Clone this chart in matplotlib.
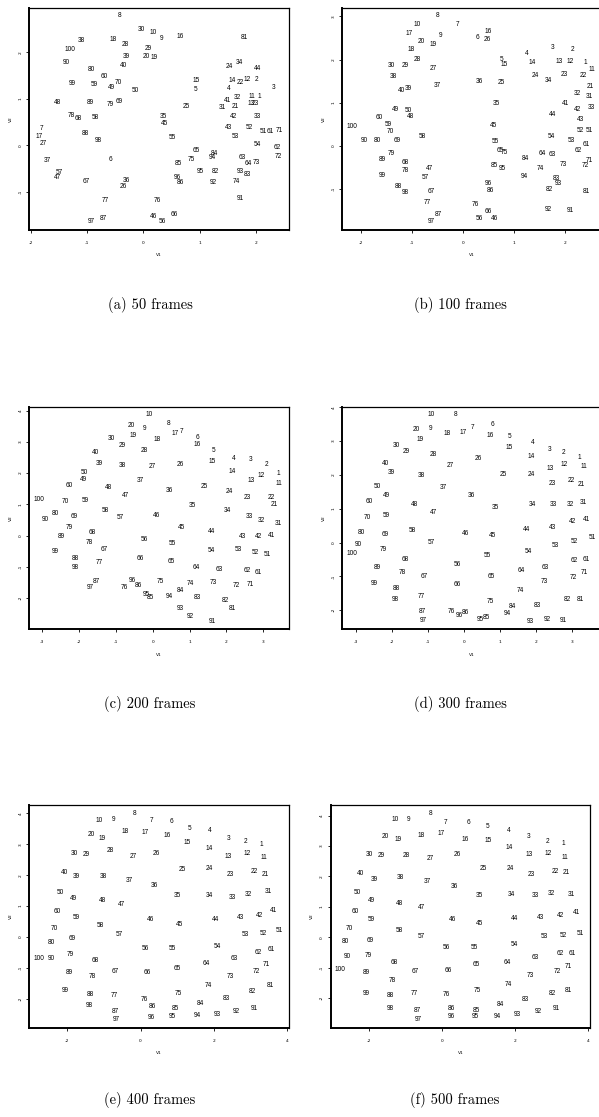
import numpy as np
import matplotlib
matplotlib.use("Agg")
import matplotlib.pyplot as plt

plt.rcParams['axes.unicode_minus'] = False

# V1 / V2 coordinates of points 1..100 for each run

a_x = [2.06, 2.01, 2.31, 1.51, 0.93, -0.58, -1.81, -0.43, 0.33, 0.18,
       1.93, 1.85, 1.92, 1.58, 0.93, 0.65, -1.86, -0.54, 0.19, 0.06,
       1.64, 1.73, 1.99, 1.52, 0.76, -0.35, -1.79, -0.32, 0.08, -0.04,
       1.40, 1.68, 2.02, 1.71, 0.36, -0.31, -1.71, -1.10, -0.30, -0.36,
       1.50, 1.60, 1.52, 2.03, 0.37, 0.18, -1.53, -1.53, -0.57, -0.14,
       2.13, 1.89, 1.64, 2.02, 0.51, 0.33, -1.50, -0.86, -0.88, -0.69,
       2.26, 2.38, 1.76, 1.86, 0.94, 0.55, -1.02, -1.16, -0.44, -0.45,
       2.42, 2.40, 2.01, 1.65, 0.86, 0.24, -0.68, -1.28, -0.59, -0.93,
       1.80, 1.28, 1.85, 1.26, 0.63, 0.66, -0.71, -1.04, -0.94, -1.37,
       1.73, 1.25, 1.73, 1.23, 1.01, 0.61, -0.92, -0.81, -1.27, -1.31]
a_y = [1.04, 1.41, 1.25, 1.22, 1.21, -0.30, 0.36, 2.78, 2.29, 2.42,
       1.05, 1.41, 0.90, 1.39, 1.39, 2.33, 0.20, 2.27, 1.88, 1.90,
       0.84, 1.35, 0.90, 1.69, 0.84, -0.88, 0.03, 2.17, 2.09, 2.48,
       0.82, 1.02, 0.62, 1.79, 0.62, -0.76, -0.32, 2.26, 1.90, 1.72,
       0.96, 0.62, 0.39, 1.65, 0.48, -1.53, -0.69, 0.92, 1.25, 1.17,
       0.29, 0.38, 0.19, 0.01, 0.18, -1.64, -0.58, 0.60, 1.30, 1.47,
       0.29, -0.05, -0.26, -0.38, -0.12, -1.49, -0.78, 0.58, 0.95, 1.36,
       0.32, -0.23, -0.36, -0.78, -0.31, -1.19, -1.19, 0.65, 0.87, 1.64,
       2.32, -0.55, -0.63, -0.17, -0.39, -0.79, -1.56, 0.26, 0.93, 1.77,
       -1.14, -0.80, -0.56, -0.26, -0.57, -0.68, -1.64, 0.10, 1.32, 2.05]

b_x = [2.41, 2.15, 1.76, 1.25, 0.76, 0.29, -0.10, -0.50, -0.44, -0.90,
       2.54, 2.10, 1.88, 1.35, 0.80, 0.49, -1.05, -1.01, -0.58, -0.81,
       2.50, 2.36, 1.99, 1.41, 0.76, 0.48, -0.58, -0.90, -1.14, -1.40,
       2.48, 2.25, 2.52, 1.68, 0.65, 0.33, -0.50, -1.36, -1.07, -1.20,
       2.01, 2.25, 2.30, 1.75, 0.59, 0.61, -0.65, -1.03, -1.33, -1.08,
       2.48, 2.31, 2.13, 1.73, 0.64, 0.33, -0.73, -0.80, -1.46, -1.65,
       2.42, 2.27, 1.76, 1.55, 0.74, 0.50, -0.63, -1.14, -1.29, -1.43,
       2.48, 2.41, 1.97, 1.51, 0.82, 0.25, -0.69, -1.14, -1.41, -1.69,
       2.42, 1.69, 1.84, 1.22, 0.61, 0.54, -0.49, -1.27, -1.59, -1.93,
       2.11, 1.67, 1.88, 1.20, 0.78, 0.50, -0.63, -1.13, -1.59, -2.18]
b_y = [1.92, 2.24, 2.28, 2.15, 1.99, 2.51, 2.80, 3.01, 2.55, 2.82,
       1.78, 1.95, 1.96, 1.92, 1.89, 2.66, 2.61, 2.24, 2.34, 2.41,
       1.38, 1.62, 1.66, 1.62, 1.46, 2.47, 1.80, 2.01, 1.85, 1.86,
       1.15, 1.22, 0.88, 1.52, 0.99, 1.50, 1.39, 1.60, 1.32, 1.29,
       0.97, 0.84, 0.62, 0.72, 0.48, -1.69, -0.53, 0.67, 0.85, 0.83,
       0.35, 0.35, 0.12, 0.22, 0.09, -1.69, -0.73, 0.22, 0.49, 0.65,
       0.02, -0.11, -0.20, -0.18, -0.12, -1.52, -1.06, -0.39, 0.12, 0.33,
       -0.34, -0.45, -0.43, -0.52, -0.15, -1.36, -1.32, -0.57, -0.17, 0.12,
       -1.06, -1.02, -0.75, -0.29, -0.46, -1.03, -1.59, -0.94, -0.32, 0.12,
       -1.50, -1.48, -0.87, -0.71, -0.52, -0.88, -1.76, -1.08, -0.69, 0.44]

c_x = [3.42, 3.10, 2.67, 2.21, 1.65, 1.21, 0.78, 0.42, -0.21, -0.10,
       3.44, 2.94, 2.67, 2.16, 1.62, 1.21, 0.60, 0.11, -0.54, -0.58,
       3.30, 3.22, 2.58, 2.09, 1.40, 0.76, 0.00, -0.23, -0.84, -1.12,
       3.41, 2.95, 2.62, 2.03, 1.08, 0.44, -0.34, -0.83, -1.45, -1.54,
       3.22, 2.87, 2.45, 1.60, 0.79, 0.11, -0.74, -1.21, -1.87, -1.87,
       3.10, 2.78, 2.32, 1.59, 0.53, -0.24, -0.88, -1.29, -1.83, -2.26,
       2.86, 2.57, 1.80, 1.18, 0.50, -0.33, -1.31, -1.64, -2.12, -2.36,
       2.64, 2.28, 1.65, 1.02, 0.20, -0.77, -1.46, -1.72, -2.27, -2.65,
       2.16, 1.97, 1.21, 0.76, -0.06, -0.39, -1.52, -2.09, -2.47, -2.92,
       1.62, 1.02, 0.76, 0.46, -0.18, -0.55, -1.70, -2.10, -2.65, -3.09]
c_y = [1.98, 2.27, 2.43, 2.48, 2.71, 3.13, 3.32, 3.59, 3.43, 3.86,
       1.66, 1.91, 1.76, 2.05, 2.36, 2.90, 3.26, 3.06, 3.19, 3.52,
       0.99, 1.23, 1.21, 1.40, 1.56, 2.27, 2.20, 2.71, 2.87, 3.10,
       0.38, 0.48, 0.61, 0.80, 0.96, 1.44, 1.76, 2.23, 2.30, 2.66,
       0.01, -0.02, -0.02, 0.13, 0.27, 0.65, 1.28, 1.53, 1.79, 2.02,
       -0.61, -0.54, -0.45, -0.48, -0.26, -0.11, 0.59, 0.79, 1.12, 1.62,
       -1.19, -1.12, -1.09, -1.02, -0.84, -0.73, -0.45, 0.10, 0.61, 1.09,
       -1.56, -1.60, -1.50, -1.53, -1.47, -1.67, -0.86, -0.22, 0.26, 0.70,
       -2.34, -2.07, -1.99, -1.74, -1.98, -1.59, -1.46, -0.73, -0.02, 0.51,
       -2.73, -2.57, -2.33, -1.95, -1.87, -1.43, -1.66, -1.02, -0.51, 1.15]

d_x = [3.20, 2.76, 2.36, 1.90, 1.27, 0.78, 0.23, -0.23, -0.93, -0.92,
       3.32, 2.77, 2.38, 1.87, 1.25, 0.73, -0.02, -0.47, -1.22, -1.31,
       3.25, 2.97, 2.43, 1.87, 1.08, 0.39, -0.39, -0.85, -1.59, -1.88,
       3.31, 2.94, 2.48, 1.89, 0.86, 0.19, -0.58, -1.18, -2.00, -2.18,
       3.38, 2.99, 2.44, 1.74, 0.79, 0.03, -0.85, -1.37, -2.14, -2.41,
       3.55, 3.04, 2.52, 1.79, 0.65, -0.18, -0.90, -1.44, -2.14, -2.63,
       3.38, 3.06, 2.26, 1.58, 0.75, -0.18, -1.11, -1.62, -2.18, -2.68,
       3.34, 3.02, 2.23, 1.55, 0.72, -0.35, -1.17, -1.71, -2.24, -2.84,
       3.21, 2.86, 2.04, 1.33, 0.62, 0.05, -1.15, -1.88, -2.41, -2.91,
       2.74, 2.29, 1.82, 1.20, 0.45, -0.14, -1.12, -1.91, -2.47, -3.10]
d_y = [2.52, 2.66, 2.75, 2.97, 3.12, 3.50, 3.39, 3.77, 3.37, 3.77,
       2.24, 2.31, 2.19, 2.55, 2.81, 3.16, 3.24, 3.22, 3.05, 3.34,
       1.72, 1.84, 1.73, 2.01, 2.01, 2.48, 2.28, 2.61, 2.70, 2.86,
       1.18, 1.11, 1.11, 1.13, 1.04, 1.39, 1.64, 1.98, 2.08, 2.34,
       0.68, 0.61, 0.43, 0.39, 0.20, 0.28, 0.90, 1.11, 1.39, 1.67,
       0.15, 0.03, -0.10, -0.27, -0.38, -0.66, -0.01, 0.36, 0.80, 1.22,
       -0.51, -0.54, -0.73, -0.83, -0.99, -1.25, -1.01, -0.49, 0.23, 0.75,
       -0.88, -1.04, -1.16, -1.41, -1.75, -2.03, -1.60, -0.89, -0.22, 0.30,
       -1.69, -1.69, -1.85, -1.88, -2.22, -2.07, -2.03, -1.36, -0.73, -0.06,
       -2.29, -2.27, -2.32, -2.11, -2.26, -2.15, -2.29, -1.67, -1.22, -0.33]

e_x = [3.30, 2.88, 2.41, 1.90, 1.33, 0.84, 0.29, -0.15, -0.75, -1.13,
       3.38, 2.91, 2.41, 1.88, 1.28, 0.73, 0.12, -0.41, -1.05, -1.36,
       3.42, 3.10, 2.47, 1.89, 1.15, 0.44, -0.21, -0.82, -1.49, -1.82,
       3.49, 2.96, 2.51, 1.89, 1.01, 0.37, -0.30, -1.01, -1.77, -2.09,
       3.63, 3.25, 2.73, 2.06, 1.06, 0.28, -0.52, -1.05, -1.84, -2.20,
       3.80, 3.36, 2.88, 2.10, 0.88, 0.13, -0.57, -1.10, -1.77, -2.28,
       3.59, 3.22, 2.57, 1.79, 1.00, 0.19, -0.68, -1.25, -1.87, -2.35,
       3.45, 3.16, 2.47, 1.85, 1.04, 0.10, -0.73, -1.31, -1.91, -2.45,
       3.54, 3.05, 2.34, 1.64, 0.95, 0.33, -0.68, -1.38, -1.94, -2.45,
       3.11, 2.63, 2.10, 1.55, 0.88, 0.30, -0.65, -1.41, -2.05, -2.78]
e_y = [2.99, 3.09, 3.18, 3.44, 3.51, 3.74, 3.77, 4.00, 3.79, 3.76,
       2.56, 2.69, 2.61, 2.85, 3.06, 3.28, 3.37, 3.41, 3.19, 3.30,
       2.03, 2.11, 2.02, 2.22, 2.19, 2.71, 2.59, 2.79, 2.68, 2.71,
       1.47, 1.36, 1.28, 1.35, 1.33, 1.65, 1.83, 1.97, 1.94, 2.09,
       0.85, 0.71, 0.64, 0.56, 0.39, 0.56, 1.05, 1.18, 1.26, 1.45,
       0.22, 0.10, 0.08, -0.29, -0.37, -0.38, 0.08, 0.36, 0.62, 0.82,
       -0.41, -0.50, -0.70, -0.85, -1.01, -1.14, -1.11, -0.76, -0.06, 0.29,
       -0.88, -1.10, -1.26, -1.56, -1.82, -2.01, -1.88, -1.28, -0.58, -0.17,
       -1.58, -1.75, -1.99, -2.16, -2.30, -2.26, -2.40, -1.85, -1.14, -0.68,
       -2.30, -2.40, -2.50, -2.55, -2.58, -2.60, -2.66, -2.22, -1.72, -0.69]

f_x = [3.30, 2.87, 2.35, 1.82, 1.25, 0.72, 0.10, -0.32, -0.92, -1.29,
       3.35, 2.89, 2.37, 1.82, 1.25, 0.63, -0.04, -0.58, -1.21, -1.55,
       3.39, 3.09, 2.44, 1.85, 1.13, 0.41, -0.32, -0.98, -1.66, -2.00,
       3.53, 2.99, 2.56, 1.88, 1.02, 0.33, -0.42, -1.15, -1.87, -2.24,
       3.67, 3.24, 2.70, 1.97, 1.02, 0.29, -0.58, -1.17, -1.94, -2.32,
       3.78, 3.31, 2.80, 1.98, 0.89, 0.11, -0.57, -1.17, -1.93, -2.38,
       3.57, 3.24, 2.55, 1.78, 0.92, 0.16, -0.74, -1.32, -1.96, -2.54,
       3.44, 3.16, 2.41, 1.81, 0.96, 0.10, -0.76, -1.36, -2.03, -2.64,
       3.45, 3.02, 2.27, 1.60, 0.92, 0.25, -0.69, -1.42, -2.08, -2.61,
       3.11, 2.63, 2.05, 1.50, 0.90, 0.25, -0.66, -1.41, -2.07, -2.79]
f_y = [3.10, 3.15, 3.30, 3.52, 3.65, 3.78, 3.78, 4.08, 3.89, 3.87,
       2.62, 2.76, 2.71, 2.95, 3.18, 3.23, 3.41, 3.36, 3.22, 3.32,
       2.12, 2.17, 2.06, 2.27, 2.26, 2.72, 2.60, 2.70, 2.70, 2.72,
       1.42, 1.43, 1.36, 1.40, 1.37, 1.66, 1.83, 1.97, 1.90, 2.11,
       0.82, 0.72, 0.65, 0.61, 0.44, 0.58, 0.99, 1.12, 1.21, 1.47,
       0.14, 0.06, 0.01, -0.24, -0.34, -0.33, 0.01, 0.22, 0.58, 0.85,
       -0.52, -0.54, -0.68, -0.82, -0.90, -1.09, -1.11, -0.82, -0.12, 0.29,
       -0.95, -1.11, -1.25, -1.54, -1.76, -1.89, -1.86, -1.41, -0.61, -0.13,
       -1.76, -1.86, -2.04, -2.21, -2.40, -2.34, -2.42, -1.92, -1.15, -0.63,
       -2.35, -2.45, -2.55, -2.60, -2.60, -2.62, -2.70, -2.33, -1.85, -1.05]

captions = ["(a) 50 frames", "(b) 100 frames", "(c) 200 frames",
            "(d) 300 frames", "(e) 400 frames", "(f) 500 frames"]

xticks = [[-2, -1, 0, 1, 2], [-2, -1, 0, 1, 2], [-3, -2, -1, 0, 1, 2, 3],
          [-3, -2, -1, 0, 1, 2, 3], [-2, 0, 2, 4], [-2, 0, 2, 4]]
yticks = [[-1, 0, 1, 2], [-1, 0, 1, 2, 3], [-2, -1, 0, 1, 2, 3, 4],
          [-2, -1, 0, 1, 2, 3, 4], [-2, -1, 0, 1, 2, 3, 4], [-2, -1, 0, 1, 2, 3, 4]]

panels = [(a_x, a_y), (b_x, b_y), (c_x, c_y), (d_x, d_y), (e_x, e_y), (f_x, f_y)]

W, H = 599, 1117
# axes boxes in pixels: left, top, width, height
boxes = [(29.3, 7.7, 259.7, 222.3), (342.3, 7.7, 259.7, 222.3),
         (29.3, 406.7, 259.7, 222.6), (342.3, 406.7, 259.7, 222.6),
         (29.3, 805, 259.7, 222.6), (330.7, 805, 259.3, 222.6)]
cap_pos = [(150, 305), (460, 305), (150, 704), (460, 704), (150, 1100), (455, 1100)]

fig = plt.figure(figsize=(W / 100, H / 100), dpi=100)

for k in range(6):
    l, t, w, h = boxes[k]
    ax = fig.add_axes([l / W, 1 - (t + h) / H, w / W, h / H])
    xs, ys = panels[k]
    for i in range(100):
        ax.text(xs[i], ys[i], str(i + 1), ha='center', va='center',
                fontsize=4.7, family='Liberation Sans')
    # R style 4% padding
    x0, x1 = min(xs), max(xs)
    y0, y1 = min(ys), max(ys)
    ax.set_xlim(x0 - 0.04 * (x1 - x0), x1 + 0.04 * (x1 - x0))
    ax.set_ylim(y0 - 0.04 * (y1 - y0), y1 + 0.04 * (y1 - y0))
    ax.set_xticks(xticks[k])
    ax.set_yticks(yticks[k])
    ax.tick_params(length=2, width=0.6, labelsize=3.2, pad=6)
    ax.tick_params(axis='y', pad=3)
    plt.setp(ax.get_yticklabels(), rotation=90, va='center')
    ax.set_xlabel("V1", fontsize=3.2, labelpad=6)
    ax.set_ylabel("V2", fontsize=3.2, labelpad=4)
    for s in ax.spines.values():
        s.set_linewidth(0.9)
    ax.spines['left'].set_linewidth(1.4)
    ax.spines['bottom'].set_linewidth(1.4)
    cx, cy = cap_pos[k]
    fig.text(cx / W, 1 - cy / H, captions[k], ha='center', va='center',
             fontsize=10.5, family='cmr10')

fig.savefig("out.png", dpi=100)
